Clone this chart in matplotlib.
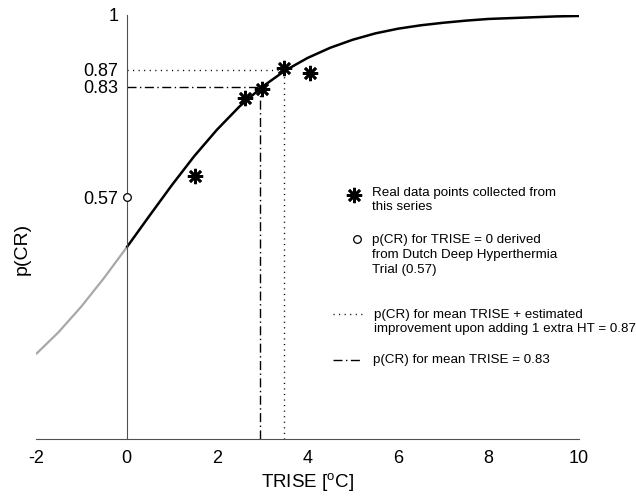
import numpy as np
import matplotlib
matplotlib.use("Agg")
import matplotlib.pyplot as plt

plt.rcParams['font.family'] = ['Liberation Sans', 'DejaVu Sans']
plt.rcParams['mathtext.fontset'] = 'custom'
plt.rcParams['mathtext.rm'] = 'Liberation Sans'
plt.rcParams['axes.unicode_minus'] = False

# fitted curve
curve_x = [-2, -1.5, -1, -0.5, 0, 0.5, 1, 1.5, 2, 2.5, 3, 3.5, 4, 4.5,
           5, 5.5, 6, 6.5, 7, 7.5, 8, 8.5, 9, 9.5, 10]
curve_p = [0.200, 0.252, 0.312, 0.379, 0.451, 0.525, 0.598, 0.667, 0.729,
           0.784, 0.830, 0.868, 0.898, 0.922, 0.941, 0.956, 0.967, 0.975,
           0.981, 0.986, 0.990, 0.992, 0.994, 0.996, 0.997]

# real data points
data_x = [1.52, 2.61, 2.99, 3.48, 4.05]
data_p = [0.620, 0.803, 0.824, 0.874, 0.862]

# p(CR) at TRISE = 0 (Dutch trial)
dutch_x = 0
dutch_p = 0.57

mean_trise = 2.94
mean_p = 0.83
extra_trise = 3.48
extra_p = 0.87

yticks = [1, 0.87, 0.83, 0.57]
yticklabels = ['1', '0.87', '0.83', '0.57']
xticks = [-2, 0, 2, 4, 6, 8, 10]

fig = plt.figure(figsize=(6.36, 4.97), dpi=100)
ax = fig.add_axes([36 / 636, 58 / 497, 543 / 636, 424.3 / 497])

cx = np.array(curve_x)
cp = np.array(curve_p)
neg = cx <= 0
pos = cx >= 0
ax.plot(cx[neg], cp[neg], color='#a8a8a8', lw=1.6, solid_capstyle='butt')
ax.plot(cx[pos], cp[pos], color='black', lw=1.8, solid_capstyle='butt')

dotted = (0, (0.8, 3.2))
dashdot = (0, (6.5, 2.5, 1, 2.5))
ax.plot([0, extra_trise], [extra_p, extra_p], color='black', lw=1, linestyle=dotted)
ax.plot([extra_trise, extra_trise], [0, extra_p], color='black', lw=1, linestyle=dotted)
ax.plot([0, mean_trise], [mean_p, mean_p], color='black', lw=1, linestyle=dashdot)
ax.plot([mean_trise, mean_trise], [0, mean_p], color='black', lw=1, linestyle=dashdot)

star = (8, 2, 0)
ax.plot(data_x, data_p, linestyle='none', marker=star, markersize=11,
        markeredgewidth=1.9, color='black', zorder=5)
ax.plot([dutch_x], [dutch_p], linestyle='none', marker='o', markersize=5.5,
        markeredgewidth=0.9, markerfacecolor='white', markeredgecolor='black',
        zorder=6, clip_on=False)

ax.set_xlim(-2, 10)
ax.set_ylim(0, 1)
for s in ['top', 'right']:
    ax.spines[s].set_visible(False)
ax.spines['left'].set_position(('data', 0))
ax.spines['left'].set_color('#505050')
ax.spines['bottom'].set_color('#505050')
ax.set_xticks(xticks)
ax.set_yticks(yticks)
ax.set_yticklabels(yticklabels)
ax.tick_params(axis='both', length=0, labelsize=13)
ax.tick_params(axis='x', pad=8)
ax.tick_params(axis='y', pad=6)
ax.set_xlabel(r'TRISE [$^{\mathrm{o}}$C]', fontsize=13.5, labelpad=3)
ax.set_ylabel('p(CR)', fontsize=14)
ax.yaxis.set_label_coords(22 / 636, 0.5, transform=fig.transFigure)
ax.yaxis.label.set_verticalalignment('center')

# legend drawn by hand in pixel space
lax = fig.add_axes([0, 0, 1, 1])
lax.set_xlim(0, 636)
lax.set_ylim(497, 0)
lax.axis('off')
fs = 9.6
lax.plot([354], [195], marker=star, markersize=11, markeredgewidth=1.9,
         color='black', linestyle='none')
lax.text(372, 200, 'Real data points collected from\nthis series', fontsize=fs,
         va='center', ha='left', linespacing=1.3)
lax.plot([357], [239], marker='o', markersize=5.5, markeredgewidth=0.9,
         markerfacecolor='white', markeredgecolor='black', linestyle='none')
lax.text(372, 255, 'p(CR) for TRISE = 0 derived\nfrom Dutch Deep Hyperthermia\nTrial (0.57)',
         fontsize=fs, va='center', ha='left', linespacing=1.3)
lax.plot([333, 365], [314, 314], color='black', lw=1, linestyle=dotted)
lax.text(374, 322, 'p(CR) for mean TRISE + estimated\nimprovement upon adding 1 extra HT = 0.87',
         fontsize=fs, va='center', ha='left', linespacing=1.3)
lax.plot([333, 362], [360, 360], color='black', lw=1, linestyle=dashdot)
lax.text(373, 360, 'p(CR) for mean TRISE = 0.83', fontsize=fs, va='center', ha='left')

fig.savefig('out.png', dpi=100)
